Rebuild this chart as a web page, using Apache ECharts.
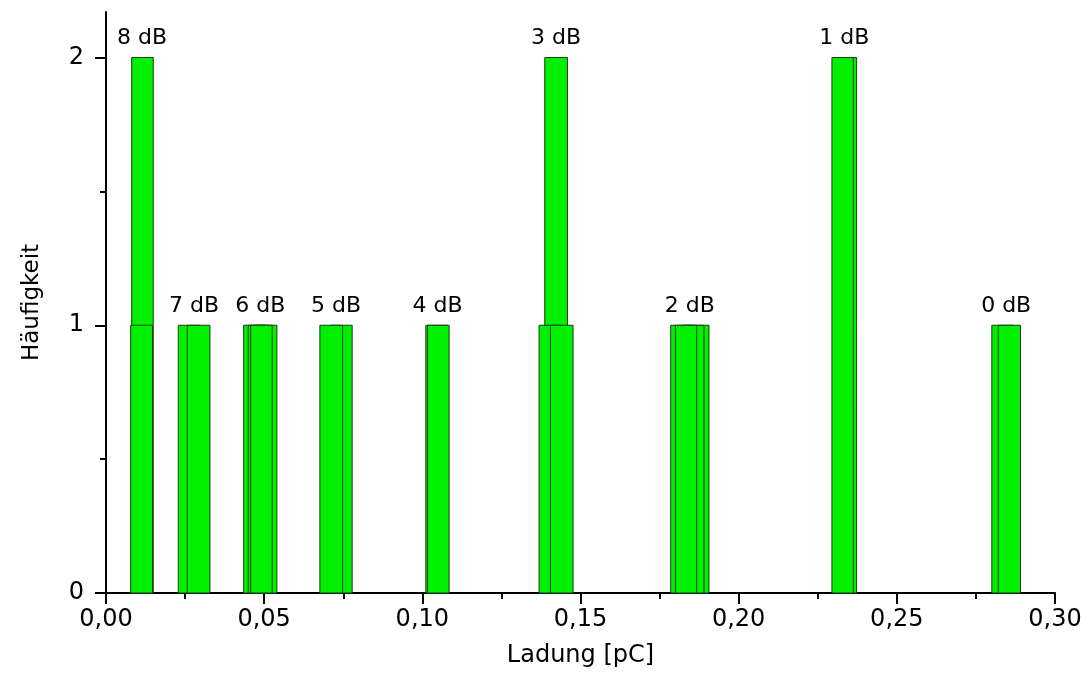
<!DOCTYPE html>
<html>
<head>
<meta charset="utf-8">
<script src="https://cdn.jsdelivr.net/npm/echarts@6/dist/echarts.min.js"></script>
<style>
html,body{margin:0;padding:0;background:#fff;}
#chart{width:1090px;height:691px;}
</style>
</head>
<body>
<div id="chart"></div>
<script>
// Group labels (attenuation levels)
const groups = ['8 dB','7 dB','6 dB','5 dB','4 dB','3 dB','2 dB','1 dB','0 dB'];
// Histogram bars, drawn in this order (later bars cover earlier ones)
const binLeft  = [0.00812,0.00780, 0.02284,0.02569, 0.04717,0.04351,0.04496,0.04572, 0.07100,0.06761, 0.10110,0.10161, 0.13870,0.13690,0.14050, 0.18379,0.18221,0.17852,0.18000, 0.23043,0.22948, 0.28003,0.28205];
const binRight = [0.01494,0.01469, 0.02970,0.03286, 0.05403,0.05036,0.05182,0.05254, 0.07782,0.07479, 0.10796,0.10847, 0.14588,0.14376,0.14765, 0.19062,0.18904,0.18537,0.18673, 0.23728,0.23624, 0.28689,0.28910];
const counts   = [2,1, 1,1, 1,1,1,1, 1,1, 1,1, 2,1,1, 1,1,1,1, 2,2, 1,1];
const binGroup = [0,0, 1,1, 2,2,2,2, 3,3, 4,4, 5,5,5, 6,6,6,6, 7,7, 8,8];
// Axis ticks
const xTicks = [0,0.05,0.10,0.15,0.20,0.25,0.30];
const yTicks = [0,1,2];
const yMinorTicks = [0.5,1.5];
const xName = 'Ladung [pC]';
const yName = 'Häufigkeit';

const FONT = 'DejaVu Sans';
const barRows = binLeft.map((l,i)=>[l, binRight[i], counts[i], binGroup[i]]);
const labelRows = groups.map((g,gi)=>{
  let lo=Infinity, hi=-Infinity, top=0;
  barRows.forEach(r=>{ if(r[3]===gi){ lo=Math.min(lo,r[0]); hi=Math.max(hi,r[1]); top=Math.max(top,r[2]); } });
  return [(lo+hi)/2, top, gi];
});

const chart = echarts.init(document.getElementById('chart'));
chart.setOption({
  animation:false,
  backgroundColor:'#ffffff',
  grid:{left:106, right:35, top:12, bottom:98},
  xAxis:{
    type:'value', min:0, max:0.30, interval:0.05,
    name:xName, nameLocation:'middle', nameGap:51,
    nameTextStyle:{fontFamily:FONT, fontSize:24, color:'#000'},
    axisLine:{show:true, onZero:false, lineStyle:{color:'#000', width:2}},
    axisTick:{show:true, length:11, lineStyle:{color:'#000', width:2}},
    minorTick:{show:true, splitNumber:2, length:6, lineStyle:{color:'#000', width:2}},
    axisLabel:{fontFamily:FONT, fontSize:24, color:'#000', margin:15,
      formatter:v=>v.toFixed(2).replace('.',',')},
    splitLine:{show:false}, minorSplitLine:{show:false}
  },
  yAxis:[{
    type:'value', min:0, max:2.17,
    name:yName, nameLocation:'middle', nameGap:62, nameRotate:90,
    nameTextStyle:{fontFamily:FONT, fontSize:23, color:'#000'},
    axisLine:{show:true, lineStyle:{color:'#000', width:2}},
    axisTick:{show:true, length:11, customValues:yTicks, lineStyle:{color:'#000', width:2}},
    axisLabel:{fontFamily:FONT, fontSize:24, color:'#000', margin:22, customValues:yTicks},
    splitLine:{show:false}
  },{
    type:'value', min:0, max:2.17, position:'left',
    axisLine:{show:false},
    axisTick:{show:true, length:6, customValues:yMinorTicks, lineStyle:{color:'#000', width:2}},
    axisLabel:{show:false},
    splitLine:{show:false}
  }],
  series:[{
    type:'custom',
    data:barRows,
    encode:{x:[0,1], y:2},
    renderItem:(params, api)=>{
      const p0 = api.coord([api.value(0), api.value(2)]);
      const p1 = api.coord([api.value(1), 0]);
      return {
        type:'rect',
        shape:{x:p0[0], y:p0[1], width:p1[0]-p0[0], height:p1[1]-p0[1]},
        style:{fill:'#00f000', stroke:'#1a3d1a', lineWidth:1}
      };
    }
  },{
    type:'custom',
    data:labelRows,
    encode:{x:0, y:1},
    renderItem:(params, api)=>{
      const p = api.coord([api.value(0), api.value(1)]);
      return {
        type:'text',
        x:p[0], y:p[1]-8,
        style:{text:groups[api.value(2)], fontFamily:FONT, fontSize:22, fill:'#000',
               align:'center', verticalAlign:'bottom'}
      };
    }
  }]
});
</script>
</body>
</html>
